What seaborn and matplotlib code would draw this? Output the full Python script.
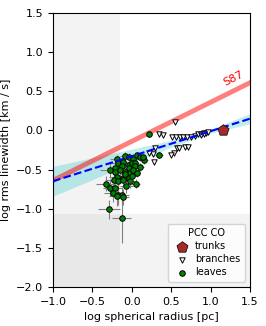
import numpy as np
import pandas as pd
import matplotlib
matplotlib.use("Agg")
import matplotlib.pyplot as plt
import seaborn as sns

# leaves (x, y, xerr, yerr)
leaf_x = [0.22, -0.19, -0.09, -0.03, 0.02, 0.06, 0.10, 0.15, 0.14, 0.34,
          -0.17, -0.11, -0.04, 0.00, 0.04, -0.21, -0.13, -0.04, 0.04, 0.10,
          -0.28, -0.21, -0.15, -0.09, -0.02, 0.02, 0.06, -0.19, -0.11, -0.04,
          -0.23, -0.17, -0.11, -0.02, 0.05, -0.33, -0.27, -0.21, -0.07, -0.24,
          -0.17, -0.13, -0.19, -0.11, -0.29, -0.13, -0.08, 0.00]
leaf_y = [-0.05, -0.37, -0.33, -0.34, -0.36, -0.31, -0.34, -0.38, -0.34, -0.31,
          -0.42, -0.40, -0.44, -0.42, -0.42, -0.48, -0.46, -0.48, -0.45, -0.47,
          -0.51, -0.53, -0.51, -0.53, -0.55, -0.51, -0.55, -0.59, -0.61, -0.61,
          -0.63, -0.65, -0.63, -0.65, -0.68, -0.68, -0.73, -0.74, -0.71, -0.80,
          -0.83, -0.83, -0.84, -0.85, -1.01, -1.12, -0.56, -0.58]
leaf_xerr = [0.04, 0.08, 0.06, 0.05, 0.07, 0.05, 0.06, 0.05, 0.04, 0.05,
             0.09, 0.07, 0.06, 0.08, 0.05, 0.10, 0.08, 0.06, 0.07, 0.05,
             0.12, 0.09, 0.08, 0.07, 0.06, 0.08, 0.05, 0.10, 0.09, 0.07,
             0.11, 0.09, 0.08, 0.07, 0.06, 0.12, 0.10, 0.09, 0.08, 0.11,
             0.10, 0.09, 0.10, 0.08, 0.14, 0.12, 0.07, 0.06]
leaf_yerr = [0.03, 0.06, 0.05, 0.05, 0.06, 0.04, 0.05, 0.05, 0.04, 0.04,
             0.08, 0.06, 0.07, 0.06, 0.05, 0.09, 0.07, 0.06, 0.06, 0.05,
             0.10, 0.08, 0.09, 0.07, 0.06, 0.07, 0.05, 0.10, 0.09, 0.07,
             0.11, 0.10, 0.09, 0.08, 0.06, 0.10, 0.11, 0.10, 0.09, 0.12,
             0.12, 0.11, 0.12, 0.10, 0.12, 0.32, 0.07, 0.06]

# branches
branch_x = [0.55, 0.34, 0.39, 0.51, 0.56, 0.61, 0.65, 0.70, 0.75, 0.80,
            0.84, 0.88, 0.91, 0.94, 0.97, 0.57, 0.60, 0.67, 0.71, 0.53,
            0.50, 0.29, 0.27, 0.22, 0.28, 0.88, 0.92]
branch_y = [0.11, -0.05, -0.06, -0.08, -0.08, -0.09, -0.08, -0.08, -0.08, -0.07,
            -0.05, -0.04, -0.03, -0.03, -0.02, -0.23, -0.22, -0.21, -0.21, -0.29,
            -0.31, -0.22, -0.30, -0.29, -0.41, -0.06, -0.05]

# trunks
trunk_x = [1.16]
trunk_y = [0.0]

# S87 relation and fitted line with its band
s87_x = [-1.0, 1.5]
s87_y = [-0.64, 0.61]
fit_x = [-1.0, -0.5, 0.0, 0.5, 1.0, 1.5]
fit_y = [-0.65, -0.49, -0.33, -0.17, -0.01, 0.15]
band_lo = [-0.84, -0.63, -0.42, -0.215, -0.035, 0.085]
band_hi = [-0.46, -0.35, -0.24, -0.125, 0.015, 0.215]

# completeness limits
x_lim_cut = -0.15
y_lim_cut = -1.07

fig = plt.figure(figsize=(2.66, 3.26), dpi=100)
ax = fig.add_axes([0.199, 0.12, 0.741, 0.84])

ax.axvspan(-1.0, x_lim_cut, color='grey', alpha=0.09, lw=0, zorder=0)
ax.axhspan(-2.0, y_lim_cut, color='grey', alpha=0.09, lw=0, zorder=0)

ax.fill_between(fit_x, band_lo, band_hi, color='c', alpha=0.25, lw=0, zorder=1)
sns.lineplot(x=s87_x, y=s87_y, ax=ax, color='red', alpha=0.5, lw=3.5, zorder=1)
sns.lineplot(x=fit_x, y=fit_y, ax=ax, color='blue', ls='--', lw=1.5, zorder=4)

ax.errorbar(leaf_x, leaf_y, xerr=leaf_xerr, yerr=leaf_yerr, fmt='none',
            ecolor='grey', elinewidth=0.8, zorder=2)

trunks = pd.DataFrame({'x': trunk_x, 'y': trunk_y})
branches = pd.DataFrame({'x': branch_x, 'y': branch_y})
leaves = pd.DataFrame({'x': leaf_x, 'y': leaf_y})

sns.scatterplot(data=trunks, x='x', y='y', ax=ax, marker='p', s=70,
                color='brown', edgecolor='black', linewidth=0.5,
                label='trunks', zorder=5)
sns.scatterplot(data=branches, x='x', y='y', ax=ax, marker='v', s=15,
                color='white', edgecolor='black', linewidth=0.7,
                label='branches', zorder=3)
sns.scatterplot(data=leaves, x='x', y='y', ax=ax, marker='o', s=16,
                color='green', edgecolor='black', linewidth=0.7,
                label='leaves', zorder=3)

ax.text(1.29, 0.67, 'S87', color='red', fontsize=8, rotation=27,
        ha='center', va='center')

ax.set_xlim(-1.0, 1.5)
ax.set_ylim(-2.0, 1.5)
ax.set_xticks(np.arange(-1.0, 1.51, 0.5))
ax.set_yticks(np.arange(-2.0, 1.51, 0.5))
ax.tick_params(labelsize=8)
ax.set_xlabel('log spherical radius [pc]', fontsize=8)
ax.set_ylabel('log rms linewidth [km / s]', fontsize=8)

ax.legend(title='PCC CO', loc='lower right', fontsize=7, title_fontsize=7,
          handletextpad=0.3, borderpad=0.5, labelspacing=0.3)

fig.savefig('out.png', dpi=100)
